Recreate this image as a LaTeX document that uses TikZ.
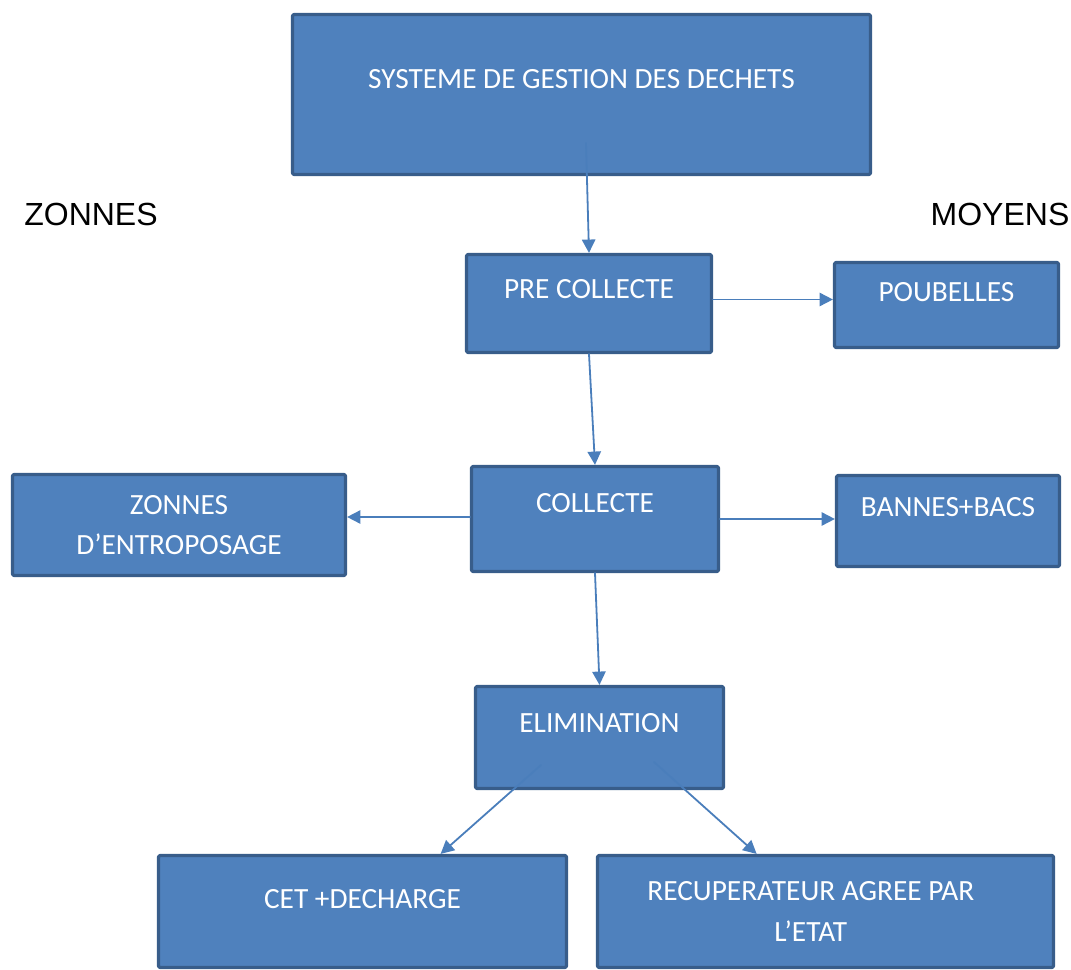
\documentclass[tikz,border=0pt]{standalone}
\usepackage{fontspec}
\setmainfont{Carlito}
\newfontfamily\headfont{Liberation Sans}
\usetikzlibrary{arrows.meta, calc}
\definecolor{boxfill}{HTML}{4F81BD}
\definecolor{boxline}{HTML}{385D8A}
\definecolor{arrline}{HTML}{4A7EBB}

\begin{document}
\begin{tikzpicture}[x=0.75pt, y=-0.75pt, >=Triangle, line cap=round, line join=round,
		box/.style={draw=boxline, fill=boxfill, line width=2.4pt, rounded corners=1pt,
			text=white, align=center, inner sep=0pt, font=\fontsize{22}{30.5}\selectfont},
		onerow/.style={text height=14pt, text depth=#1},
		arr/.style={draw=arrline, line width=1.35pt, -{Triangle[length=10pt, width=10pt]}},
		head/.style={font=\headfont\fontsize{24}{28}\selectfont}]
		
		% ===== frame of the page =====
		\useasboundingbox (0,0) rectangle (1071,970);
		
		% ===== titles of the two sides =====
		\node[head] (zonnes) at (91,214) {ZONNES};
		\node[head] (moyens) at (1000,214) {MOYENS};
		
		% ===== main chain =====
		\node[box, onerow=23pt, minimum width=433.5pt, minimum height=120pt] (sys) at (581.5,94.5)
			{SYSTEME DE GESTION DES DECHETS};
		\node[box, onerow=22pt, minimum width=183.75pt, minimum height=73.5pt] (pre) at (589,303.5)
			{PRE COLLECTE};
		\node[box, onerow=24pt, minimum width=185.25pt, minimum height=78.75pt] (coll) at (595,519)
			{COLLECTE};
		\node[box, onerow=22pt, minimum width=186pt, minimum height=76.5pt] (elim) at (599.5,737.5)
			{ELIMINATION};
		
		% ===== side boxes =====
		\node[box, onerow=19.5pt, minimum width=168pt, minimum height=63.75pt] (poub) at (946.5,305)
			{POUBELLES};
		\node[box, minimum width=249.75pt, minimum height=75.75pt] (zon) at (179,525)
			{ZONNES\\D'ENTROPOSAGE};
		\node[box, onerow=21pt, minimum width=167.25pt, minimum height=68.25pt] (ban) at (948,521)
			{BANNES+BACS};
		
		% ===== end of the chain =====
		\node[box, onerow=18pt, minimum width=306pt, minimum height=84pt] (cet) at (362.5,911.5)
			{CET +DECHARGE};
		\node[box, minimum width=342pt, minimum height=84pt] (recup) at (825.5,911.5)
			{\hspace*{-22pt}RECUPERATEUR AGREE PAR\\\hspace*{-22pt}L'ETAT};
		
		% ===== connectors =====
		\coordinate (sysout) at (586,143);
		\coordinate (elimL) at (541,765);
		\coordinate (elimR) at (654,762);
		\draw[arr] (sysout) -- (pre.north);
		\draw[arr] (pre.south) -- (coll.north);
		\draw[arr] ([yshift=3pt]pre.east) -- ([yshift=3pt]pre.east -| poub.west);
		\draw[arr] ([yshift=1.5pt]coll.west) -- ([yshift=1.5pt]coll.west -| zon.east);
		\draw[arr] (coll.east) -- (coll.east -| ban.west);
		\draw[arr] (coll.south) -- (elim.north);
		\draw[arr] (elimL) -- ($(cet.north west)!0.69!(cet.north east)$);
		\draw[arr] (elimR) -- ($(recup.north west)!0.35!(recup.north east)$);
		
	\end{tikzpicture}
\end{document}
